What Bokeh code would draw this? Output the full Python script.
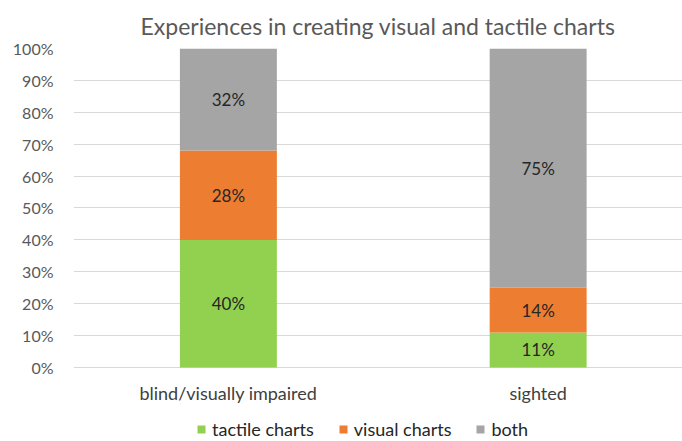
from bokeh.plotting import figure
from bokeh.models import (Range1d, ColumnDataSource, Legend, LegendItem, FixedTicker,
                          LabelSet)
from bokeh.core.properties import value
from bokeh.embed import file_html
from bokeh.resources import INLINE

# ---- data ----
categories = ["blind/visually impaired", "sighted"]
series = ["tactile charts", "visual charts", "both"]
tactile = [40, 11]
visual = [28, 14]
both = [32, 75]
colors = ["#92D050", "#ED7D31", "#A5A5A5"]
y_ticks = [0, 10, 20, 30, 40, 50, 60, 70, 80, 90, 100]

FONT = "Lato"

xs = list(range(len(categories)))
src = ColumnDataSource(dict(x=xs, tactile=tactile, visual=visual, both=both))

# frame extends below 0% so that category labels and legend live inside it
p = figure(frame_width=609, frame_height=393, output_backend="svg", toolbar_location=None,
           x_range=Range1d(-0.5, 1.466), y_range=Range1d(-23.2, 100),
           x_axis_location=None,
           min_border_left=73, min_border_right=0, min_border_top=48, min_border_bottom=0,
           title="Experiences in creating visual and tactile charts")
p.outline_line_color = None
p.background_fill_color = "white"
p.border_fill_color = "white"

p.title.align = "center"
p.title.text_font = FONT
p.title.text_font_size = "23px"
p.title.text_font_style = "normal"
p.title.text_color = "#595959"
p.title.standoff = 18

renderers = p.vbar_stack(["tactile", "visual", "both"], x="x", width=0.313, source=src,
                         color=colors, line_color=None)

# data labels
lab_x, lab_y, lab_t = [], [], []
for i in xs:
    base = 0
    for vals in (tactile, visual, both):
        v = vals[i]
        lab_x.append(i)
        lab_y.append(base + v / 2)
        lab_t.append(f"{v}%")
        base += v
lsrc = ColumnDataSource(dict(x=lab_x, y=lab_y, t=lab_t))
p.add_layout(LabelSet(x="x", y="y", text="t", source=lsrc, text_align="center",
                      text_baseline="middle", text_font=value(FONT),
                      text_font_size=value("17px"), text_color=value("#262626")))

# category labels under the bars
csrc = ColumnDataSource(dict(x=xs, y=[-7.84] * len(xs), t=categories))
p.add_layout(LabelSet(x="x", y="y", text="t", source=csrc, text_align="center",
                      text_baseline="middle", text_font=value(FONT),
                      text_font_size=value("18px"), text_color=value("#404040")))

# y axis
p.yaxis.ticker = FixedTicker(ticks=y_ticks)
p.yaxis.major_label_overrides = {t: f"{t}%" for t in y_ticks}
p.yaxis.axis_line_color = None
p.yaxis.major_tick_line_color = None
p.yaxis.major_tick_out = 0
p.yaxis.major_tick_in = 0
p.yaxis.minor_tick_line_color = None
p.yaxis.major_label_text_font = FONT
p.yaxis.major_label_text_font_size = "16px"
p.yaxis.major_label_text_color = "#595959"
p.yaxis.major_label_standoff = 20

p.xgrid.grid_line_color = None
p.ygrid.ticker = FixedTicker(ticks=y_ticks)
p.ygrid.grid_line_color = "#D9D9D9"
p.ygrid.grid_line_width = 1

# legend (inside the extended frame, at its bottom)
items = [LegendItem(label=s, renderers=[r]) for s, r in zip(series, renderers)]
legend = Legend(items=items, orientation="horizontal", location=(123, 1),
                glyph_width=10, glyph_height=10, label_standoff=6, spacing=24,
                padding=0, margin=0, border_line_color=None, background_fill_alpha=0,
                label_text_font=FONT, label_text_font_size="18px",
                label_text_color="#262626")
p.add_layout(legend, "center")

open("out.html", "w").write(file_html(p, INLINE))
